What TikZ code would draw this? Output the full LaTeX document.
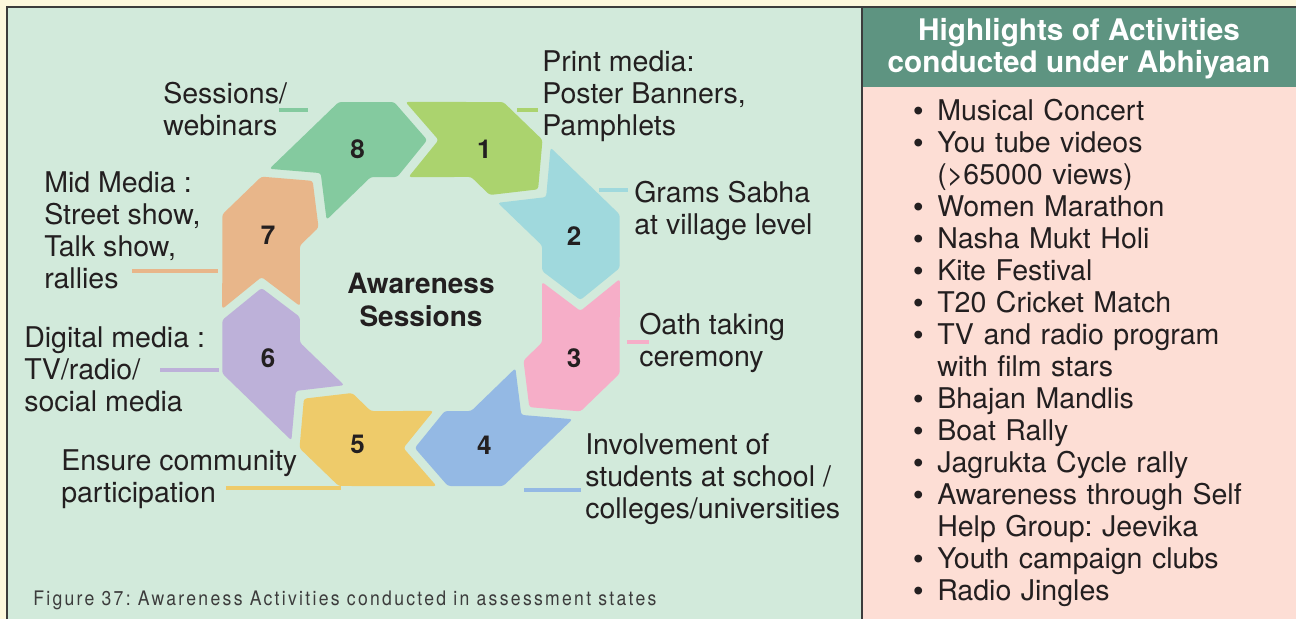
\documentclass[tikz,border=0pt]{standalone}
\usepackage{fontspec}
\usepackage{enumitem}
\usetikzlibrary{calc}
\setmainfont{TeX Gyre Heros}
\newfontfamily\capfont[FakeStretch=0.88,LetterSpace=11.5]{TeX Gyre Heros}
\newfontfamily\bulfont{Liberation Sans}

\definecolor{bgyellow}{HTML}{FDF8DD}
\definecolor{panelgreen}{HTML}{D2EADB}
\definecolor{headgreen}{HTML}{5E9481}
\definecolor{bodypink}{HTML}{FDDED5}
\definecolor{edgegray}{HTML}{3C3C3C}
\definecolor{txtdark}{HTML}{231F20}
\definecolor{pc1}{HTML}{ABD36E}
\definecolor{pc2}{HTML}{A0D9DD}
\definecolor{pc3}{HTML}{F6AEC8}
\definecolor{pc4}{HTML}{94B9E4}
\definecolor{pc5}{HTML}{EECB6A}
\definecolor{pc6}{HTML}{BDB1D9}
\definecolor{pc7}{HTML}{E8B68A}
\definecolor{pc8}{HTML}{84CA9F}

\begin{document}
\frenchspacing
\begin{tikzpicture}[x=0.75pt, y=-0.75pt,
  lbl/.style={anchor=west, inner sep=0pt, align=left, text=txtdark,
    font=\fontsize{21.4}{24}\selectfont},
  num/.style={inner sep=0pt, text=txtdark, font=\fontsize{19.5}{22}\selectfont\bfseries},
  hub/.style={inner sep=0pt, align=center, text=txtdark,
    font=\fontsize{21}{24.75}\selectfont\bfseries},
  head/.style={inner sep=0pt, align=center, text=white,
    font=\fontsize{22.3}{24}\selectfont\bfseries},
  lead/.style={#1, line width=3.2pt}]
  \useasboundingbox (0,0) rectangle (1296,619);

  % 底色与两个面板
  \fill[bgyellow] (0,0) rectangle (1296,619);
  \fill[panelgreen] (7,7) rectangle (862,619);
  \fill[headgreen] (862,7) rectangle (1296,87);
  \fill[bodypink] (862,87) rectangle (1296,619);
  \draw[edgegray, line width=1.5pt] (7,619) -- (7,7) -- (1296,7);
  \draw[edgegray, line width=1.5pt] (862,7) -- (862,619);

  % 八个箭头块组成的环
  \begin{scope}[shift={(421,294)}, xscale=1.035, yscale=-1]
    \foreach \k/\c in {1/pc1, 2/pc2, 3/pc3, 4/pc4, 5/pc5, 6/pc6, 7/pc7, 8/pc8} {
      \fill[\c, rounded corners=2pt, rotate=45*\k]
        (-26,192) -- (6,154) -- (-23,117) -- (-48.5,117) -- (-91.2,74.2)
        -- (-96.9,120.9) -- (-146.4,125.2) -- (-79.5,192) -- cycle;
      \node[num] (n\k) at ($({112.5-45*\k}:160)+(0,-3)$) {\k};
    }
    \node[hub] (hub) at (0,-6) {Awareness\\Sessions};
  \end{scope}

  % 标注与引线
  \node[lbl] (t1) at (542,96) {Print media:\\Poster Banners,\\Pamphlets};
  \node[lbl] (t2) at (634,211) {Grams Sabha\\at village level};
  \node[lbl] (t3) at (639,343) {Oath taking\\ceremony};
  \node[lbl] (t4) at (585,479) {Involvement of\\students at school /\\colleges/universities};
  \node[lbl] (t5) at (61,479) {Ensure community\\participation};
  \node[lbl] (t6) at (24,369) {Digital media :\\TV/radio/\\social media};
  \node[lbl] (t7) at (44,230) {Mid Media :\\Street show,\\Talk show,\\rallies};
  \node[lbl] (t8) at (163,109) {Sessions/\\webinars};

  \draw[lead=pc1] (517,110) -- (538,110);
  \draw[lead=pc2] (599,190) -- (628,190);
  \draw[lead=pc3] (627,342) -- (649,342);
  \draw[lead=pc4] (524,490) -- (581,490);
  \draw[lead=pc5] (226,488) -- (341,488);
  \draw[lead=pc6] (160,370) -- (219,370);
  \draw[lead=pc7] (132,271) -- (218,271);
  \draw[lead=pc8] (279,110) -- (308,110);

  \node[anchor=west, inner sep=0pt, text=edgegray] (cap) at (33,600)
    {\capfont\fontsize{15}{17}\selectfont Figure 37: Awareness Activities conducted in assessment states};

  % 右侧列表
  \node[head] (hd) at (1079,49) {Highlights of Activities\\conducted under Abhiyaan};
  \node[anchor=west, inner sep=0pt, text width=300pt, text=txtdark,
    font=\fontsize{21.4}{24}\selectfont] (list) at (900,348) {%
    \begin{itemize}[leftmargin=27.75pt, labelsep=10.5pt, itemsep=0pt,
      topsep=0pt, parsep=0pt, partopsep=0pt, label={\bulfont\textbullet}]
      \item Musical Concert
      \item You tube videos\\(>65000 views)
      \item Women Marathon
      \item Nasha Mukt Holi
      \item Kite Festival
      \item T20 Cricket Match
      \item TV and radio program\\with film stars
      \item Bhajan Mandlis
      \item Boat Rally
      \item Jagrukta Cycle rally
      \item Awareness through Self\\Help Group: Jeevika
      \item Youth campaign clubs
      \item Radio Jingles
    \end{itemize}};
\end{tikzpicture}
\end{document}
